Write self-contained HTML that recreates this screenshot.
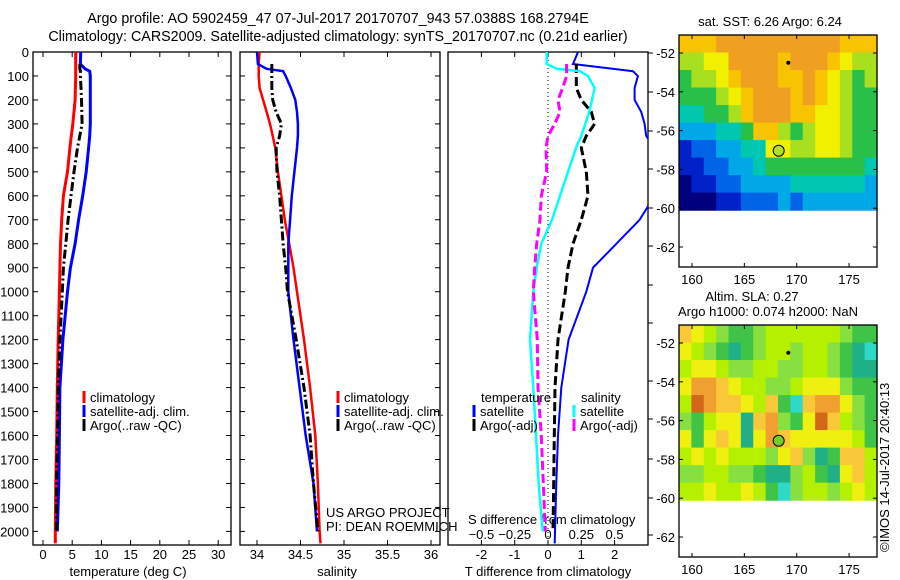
<!DOCTYPE html>
<html><head><meta charset="utf-8">
<style>
html,body{margin:0;padding:0;background:#fff;}
svg{display:block;font-family:"Liberation Sans",sans-serif;}
text{font-size:13px;fill:#000;}
.big{font-size:14.3px;}
</style></head>
<body>
<svg id="fig" width="900" height="580" viewBox="0 0 900 580" xmlns="http://www.w3.org/2000/svg">
<text class="big" x="338" y="23" text-anchor="middle">Argo profile: AO 5902459_47 07-Jul-2017 20170707_943 57.0388S 168.2794E</text>
<text class="big" x="338" y="41" text-anchor="middle">Climatology: CARS2009. Satellite-adjusted climatology: synTS_20170707.nc (0.21d earlier)</text>
<text x="128" y="576" text-anchor="middle">temperature (deg C)</text>
<text x="337" y="576" text-anchor="middle">salinity</text>
<text x="548" y="576" text-anchor="middle">T difference from climatology</text>
<text x="468" y="524">S difference from climatology</text>
<text x="326" y="517">US ARGO PROJECT</text>
<text x="326" y="531">PI: DEAN ROEMMICH</text>
<text x="770" y="26" text-anchor="middle">sat. SST: 6.26 Argo: 6.24</text>
<text x="752" y="301" text-anchor="middle">Altim. SLA: 0.27</text>
<text x="768" y="316" text-anchor="middle">Argo h1000: 0.074 h2000: NaN</text>
<text transform="translate(889,552) rotate(-90)">©IMOS 14-Jul-2017 20:40:13</text>
</svg>
<script>
// ---------- data ----------
const depths=[0,50,70,80,100,150,200,250,300,350,400,500,600,700,800,900,1000,1200,1400,1600,1800,2000,2050];
const tempClim=[5.6,5.6,5.6,5.6,5.6,5.55,5.5,5.3,5.1,4.85,4.6,4.2,3.5,3.2,3.0,2.9,2.8,2.6,2.45,2.35,2.2,2.1,2.1];
const tempSat=[6.45,6.4,7.2,8.0,8.1,8.1,8.1,8.1,8.1,8.0,7.8,7.4,6.8,6.1,5.5,4.7,4.2,3.4,2.9,2.8,2.7,2.45,null];
const tempArgo=[null,6.3,6.3,6.4,6.4,6.5,6.6,6.65,6.7,6.3,5.9,5.3,4.8,4.3,3.9,3.5,3.3,2.9,2.6,2.5,2.3,2.3,null];
const salClim=[34.03,34.02,34.02,34.02,34.02,34.03,34.07,34.11,34.15,34.18,34.21,34.24,34.28,34.32,34.37,34.42,34.46,34.54,34.61,34.67,34.70,34.72,34.73];
const salSat=[34.0,34.01,34.11,34.30,34.33,34.39,34.44,34.46,34.47,34.47,34.46,34.43,34.40,34.38,34.36,34.36,34.36,34.42,34.49,34.56,34.65,34.69,null];
const salArgo=[null,34.17,34.17,34.17,34.17,34.17,34.18,34.22,34.28,34.26,34.22,34.23,34.26,34.28,34.30,34.33,34.35,34.45,34.54,34.61,34.65,34.70,null];
const dTSat=[0.9,0.75,1.94,2.55,2.7,2.6,2.6,2.8,2.9,2.95,3.2,3.3,3.2,2.75,2.05,1.35,1.15,0.62,0.4,0.3,0.25,0.21,0.2];
const dTArgo=[null,0.85,0.85,0.85,0.85,0.85,1.0,1.3,1.4,1.15,1.0,1.15,1.2,1.0,0.75,0.6,0.52,0.3,0.21,0.19,0.17,0.15,null];
const dSSat=[-0.01,-0.01,0.065,0.24,0.30,0.35,0.33,0.31,0.28,0.25,0.21,0.15,0.09,0.03,-0.05,-0.085,-0.11,-0.135,-0.11,-0.09,-0.07,-0.04,null];
const dSArgo=[null,0.14,0.14,0.14,0.14,0.11,0.075,0.09,0.05,0.0,-0.015,-0.01,-0.05,-0.06,-0.085,-0.1,-0.11,-0.08,-0.075,-0.05,-0.035,-0.02,null];
const depthTicks=[0,100,200,300,400,500,600,700,800,900,1000,1100,1200,1300,1400,1500,1600,1700,1800,1900,2000];
const tempTicks=[0,5,10,15,20,25,30];
const salTicks=[34,34.5,35,35.5,36];
const salTickLabels=["34","34.5","35","35.5","36"];
const dTTicks=[-2,-1,0,1,2];
const dSTicks=[-0.5,-0.25,0,0.25,0.5];
const dSTickLabels=["\u22120.5","\u22120.25","0","0.25","0.5"];
const latTicks=[-52,-54,-56,-58,-60,-62];
const lonTicks=[160,165,170,175];
// map grids (rows north->south, 16 cols), colour-class indices
const sstGrid=[
[8,8,8,9,9,9,9,9,9,9,9,9,9,8,8,8],
[6,6,7,7,9,9,9,9,8,9,9,9,8,7,6,6],
[5,6,6,7,8,9,9,9,8,8,9,8,7,6,5,6],
[5,5,5,6,7,8,9,9,9,8,9,8,7,6,5,5],
[4,4,5,5,6,8,9,9,9,8,8,7,7,6,5,5],
[3,3,3,4,4,5,8,8,6,5,6,7,7,6,5,5],
[1,2,2,3,3,4,4,7,7,6,6,7,7,6,5,5],
[1,1,2,2,3,3,4,5,5,5,5,5,5,5,5,4],
[0,1,1,2,2,3,3,3,3,4,4,4,4,4,4,3],
[0,0,0,1,1,2,2,2,3,2,3,3,3,3,3,3]];
const slaGrid=[
[6,5,4,3,2,2,3,4,4,4,4,4,4,3,2,2],
[5,4,3,2,1,2,3,4,4,3,4,4,3,2,1,0],
[4,5,5,4,3,3,4,4,3,3,4,4,3,2,1,1],
[5,7,7,6,5,4,4,3,3,4,5,5,5,3,2,2],
[4,8,7,6,6,5,4,6,2,0,6,7,7,5,3,2],
[3,2,4,5,5,1,6,7,3,2,5,8,6,4,3,2],
[5,2,5,6,5,1,5,7,6,5,5,5,5,5,4,2],
[4,5,4,5,4,4,4,3,5,6,3,1,2,6,6,4],
[3,3,4,4,3,3,2,1,1,3,4,2,1,5,6,4],
[4,4,5,4,4,5,4,2,0,3,4,4,3,4,5,4]];
const argoLon=168.28, argoLat=-57.04;
const dotLon=169.2, dotLat=-52.5;

// ---------- helpers ----------
const NS="http://www.w3.org/2000/svg";
const svg=document.getElementById('fig');
function mk(tag,attrs,parent){const e=document.createElementNS(NS,tag);for(const k in attrs)e.setAttribute(k,attrs[k]);(parent||svg).appendChild(e);return e;}
const yD=d=>52+d*0.2397;
const xT=v=>43+v*5.84;
const xS=v=>257+(v-34)*87;
const xDT=v=>548+v*33.3;
const xDS=v=>548+v*133.2;
const lonX=v=>692+(v-160)*10.47;
const latY=(v,top)=>top+18+(-52-v)*19.4;

function frame(x0,x1,name){
  const r=mk('rect',{x:x0,y:52,width:x1-x0,height:493,fill:'none',stroke:'#000','stroke-width':1.3});
  
  
}
function line(vals,xf,color,w,dash,name,x0,x1){
  const cp='c'+name;
  const c=mk('clipPath',{id:cp});
  mk('rect',{x:x0,y:52,width:x1-x0,height:493},c);
  let d='';let started=false;
  for(let i=0;i<depths.length;i++){
    if(vals[i]===null){continue;}
    d+=(started?'L':'M')+xf(vals[i]).toFixed(1)+','+yD(depths[i]).toFixed(1);started=true;
  }
  const p=mk('path',{d:d,fill:'none',stroke:color,'stroke-width':w,'clip-path':'url(#'+cp+')','stroke-dasharray':dash||'none'});
  
  
}
function ticksX(ticks,labels,xf,labelY,name){
  ticks.forEach((t,i)=>{
    const x=xf(t);
    mk('line',{x1:x,x2:x,y1:545,y2:540,stroke:'#000'});
    mk('line',{x1:x,x2:x,y1:52,y2:57,stroke:'#000'});
    if(labelY){const tx=mk('text',{x:x,y:labelY,'text-anchor':'middle'});tx.textContent=labels[i];
    
    }
  });
}
function ticksY(x0,x1,labels){
  depthTicks.forEach(d=>{
    const y=yD(d);
    mk('line',{x1:x0,x2:x0+5,y1:y,y2:y,stroke:'#000'});
    mk('line',{x1:x1,x2:x1-5,y1:y,y2:y,stroke:'#000'});
    if(labels){const t=mk('text',{x:29,y:y+5,'text-anchor':'end'});t.textContent=d;
    
    }
  });
}
function legendEntry(x,y,color,label,name){
  const b=mk('line',{x1:x,x2:x,y1:y-11,y2:y+1,stroke:color,'stroke-width':3});
  
  
  const t=mk('text',{x:x+6,y:y});t.textContent=label;
  
  
}

// ---------- panel 1: temperature ----------
frame(33,231,'temperature-panel');
ticksY(33,231,true);
ticksX(tempTicks,tempTicks.map(String),xT,559,'temperature');
line(tempClim,xT,'#ff0000',3,null,'temp-climatology-line',33,231);
line(tempSat,xT,'#0000ff',3,null,'temp-satellite-line',33,231);
line(tempArgo,xT,'#000',3,'9,3,2,3','temp-argo-line',33,231);
legendEntry(84,402,'#ff0000','climatology','temp-legend-climatology');
legendEntry(84,416,'#0000ff','satellite-adj. clim.','temp-legend-satellite');
legendEntry(84,430,'#000','Argo(..raw -QC)','temp-legend-argo');

// ---------- panel 2: salinity ----------
frame(240,440,'salinity-panel');
ticksY(240,440,false);
ticksX(salTicks,salTickLabels,xS,559,'salinity');
line(salClim,xS,'#ff0000',2.5,null,'sal-climatology-line',240,440);
line(salSat,xS,'#0000ff',2.5,null,'sal-satellite-line',240,440);
line(salArgo,xS,'#000',3,'9,3,2,3','sal-argo-line',240,440);
legendEntry(338,402,'#ff0000','climatology','sal-legend-climatology');
legendEntry(338,416,'#0000ff','satellite-adj. clim.','sal-legend-satellite');
legendEntry(338,430,'#000','Argo(..raw -QC)','sal-legend-argo');

// ---------- panel 3: differences ----------
frame(448,648,'difference-panel');
ticksX(dTTicks,dTTicks.map(String),xDT,559,'t-difference');
dSTicks.forEach((t,i)=>{const tx=mk('text',{x:xDS(t),y:539,'text-anchor':'middle'});tx.textContent=dSTickLabels[i];

});
[53,92,131,169,208,246,285,323,381,419,459,498,535].forEach(y=>{mk('line',{x1:648,x2:653,y1:y,y2:y,stroke:'#000'});});
const zl=mk('line',{x1:548,x2:548,y1:52,y2:545,stroke:'#000','stroke-dasharray':'1,3'});


line(dTSat,xDT,'#0000ff',2,null,'dt-satellite-line',448,648);
line(dTArgo,xDT,'#000',3,'9,4','dt-argo-line',448,648);
line(dSSat,xDS,'#00ffff',2.5,null,'ds-satellite-line',448,648);
line(dSArgo,xDS,'#ff00ff',3,'9,4','ds-argo-line',448,648);
const lt=mk('text',{x:481,y:402});lt.textContent='temperature';


const ls=mk('text',{x:581,y:402});ls.textContent='salinity';


legendEntry(474,416,'#0000ff','satellite','diff-legend-t-satellite');
legendEntry(474,430,'#000','Argo(-adj)','diff-legend-t-argo');
legendEntry(574,416,'#00ffff','satellite','diff-legend-s-satellite');
legendEntry(574,430,'#ff00ff','Argo(-adj)','diff-legend-s-argo');

// ---------- maps ----------
const sstColors=['#00007f','#0020c8','#0064e6','#00a8e8','#00c8b0','#28c048','#a8e020','#f0f000','#f8c400','#f0a020'];
const slaColors=['#30d8c8','#20b088','#40c448','#88e040','#b4f000','#f0f010','#f8c838','#f0a030','#d06818'];
function drawMap(top,grid,colors,name,markerFill){
  const x0=679,x1=877,yTop=top,yData=latY(-60.1,top),yBot=top+232;
  const rows=grid.length,cols=grid[0].length;
  const cw=(x1-x0)/cols,ch=(yData-yTop)/rows;
  const g=mk('g',{});
  
  
  grid.forEach((row,r)=>row.forEach((v,c)=>{
    const cell=mk('rect',{x:(x0+c*cw).toFixed(2),y:(yTop+r*ch).toFixed(2),width:(cw+0.6).toFixed(2),height:(ch+0.6).toFixed(2),fill:colors[v]},g);
    
    
  }));
  const fr=mk('rect',{x:x0,y:yTop,width:x1-x0,height:yBot-yTop,fill:'none',stroke:'#000','stroke-width':1.3});
  
  
  latTicks.forEach(v=>{const y=latY(v,top);
    mk('line',{x1:x0,x2:x0+4,y1:y,y2:y,stroke:'#000'});mk('line',{x1:x1,x2:x1-4,y1:y,y2:y,stroke:'#000'});
    const t=mk('text',{x:675,y:y+5,'text-anchor':'end'});t.textContent=String(v);
    
    });
  lonTicks.forEach(v=>{const x=lonX(v);
    mk('line',{x1:x,x2:x,y1:yBot,y2:yBot-4,stroke:'#000'});mk('line',{x1:x,x2:x,y1:yTop,y2:yTop+4,stroke:'#000'});
    const t=mk('text',{x:x,y:yBot+17,'text-anchor':'middle'});t.textContent=v;
    
    });
  const dot=mk('circle',{cx:lonX(dotLon),cy:latY(dotLat,top),r:2,fill:'#000'});
  
  
  const m=mk('circle',{cx:lonX(argoLon),cy:latY(argoLat,top),r:5.5,fill:markerFill,stroke:'#000','stroke-width':1});
  
  
}
drawMap(35,sstGrid,sstColors,'sst-map','#b0e020');
drawMap(325,slaGrid,slaColors,'sla-map','#70d020');
</script>
</body></html>
